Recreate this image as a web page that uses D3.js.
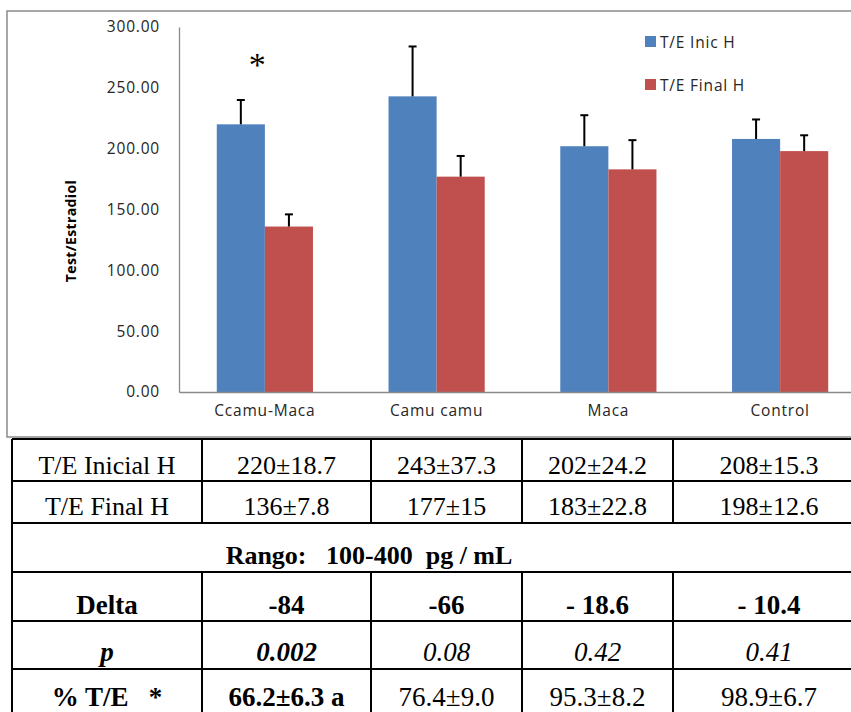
<!DOCTYPE html>
<html>
<head>
<meta charset="utf-8">
<script src="https://cdn.jsdelivr.net/npm/d3@7"></script>
<style>
  html, body { margin: 0; padding: 0; background: #fff; }
  svg { display: block; }
  .pre { white-space: pre; }
</style>
</head>
<body>
<svg id="chart" width="851" height="712"></svg>
<script>
// ---------------- data ----------------
const categories = ["Ccamu-Maca", "Camu camu", "Maca", "Control"];
const seriesNames = ["T/E Inic H", "T/E Final H"];
const inicValues = [220, 243, 202, 208];
const inicErrors = [20, 41, 25.5, 16];
const finalValues = [136, 177, 183, 198];
const finalErrors = [10, 17, 24, 13];
const yTicks = [0, 50, 100, 150, 200, 250, 300];
const yTitle = "Test/Estradiol";

const rowLabels = ["T/E Inicial H", "T/E Final H"];
const rowInic = ["220±18.7", "243±37.3", "202±24.2", "208±15.3"];
const rowFinal = ["136±7.8", "177±15", "183±22.8", "198±12.6"];
const rangoText = "Rango:   100-400  pg / mL";
const deltaLabel = "Delta";
const deltaValues = ["-84", "-66", "- 18.6", "- 10.4"];
const pLabel = "p";
const pValues = ["0.002", "0.08", "0.42", "0.41"];
const pctLabel = "% T/E   *";
const pctValues = ["66.2±6.3 a", "76.4±9.0", "95.3±8.2", "98.9±6.7"];

// ---------------- chart ----------------
const svg = d3.select("#chart");
const colors = ["#4F81BD", "#C0504D"];
const sansFont = "'Open Sans', 'Liberation Sans', sans-serif";
const serifFont = "'Liberation Serif', 'Times New Roman', serif";
const textGray = "#262626";

// outer chart frame
svg.append("rect")
  .attr("x", 7).attr("y", 11).attr("width", 900).attr("height", 426)
  .attr("fill", "none").attr("stroke", "#8a8a8a").attr("stroke-width", 1.5);

const plot = { left: 179, right: 866, top: 27, bottom: 392 };

const x0 = d3.scaleBand().domain(categories).range([plot.left, plot.right]).paddingInner(0.44).paddingOuter(0.22);
const x1 = d3.scaleBand().domain(seriesNames).range([0, x0.bandwidth()]);
const y = d3.scaleLinear().domain([0, 300]).range([plot.bottom, plot.top]);

const series = [
  { name: seriesNames[0], values: inicValues, errors: inicErrors, color: colors[0] },
  { name: seriesNames[1], values: finalValues, errors: finalErrors, color: colors[1] }
];

// y axis
const yAxis = d3.axisLeft(y).tickValues(yTicks).tickFormat(d3.format(".2f")).tickSize(0).tickPadding(19);
const gy = svg.append("g").attr("transform", `translate(${plot.left},0)`).call(yAxis);
gy.select(".domain").attr("stroke", "#8a8a8a").attr("stroke-width", 1.3);
gy.selectAll("text").attr("font-family", sansFont).attr("font-size", 15.5)
  .attr("letter-spacing", 0.8).attr("fill", textGray);

// bars
series.forEach((s) => {
  const g = svg.append("g");
  g.selectAll("rect").data(categories).join("rect")
    .attr("x", (c) => x0(c) + x1(s.name))
    .attr("y", (c, i) => y(s.values[i]))
    .attr("width", x1.bandwidth())
    .attr("height", (c, i) => y(0) - y(s.values[i]))
    .attr("fill", s.color);
  // error bars (upper only)
  g.selectAll("line.err").data(categories).join("line").attr("class", "err")
    .attr("x1", (c) => x0(c) + x1(s.name) + x1.bandwidth() / 2)
    .attr("x2", (c) => x0(c) + x1(s.name) + x1.bandwidth() / 2)
    .attr("y1", (c, i) => y(s.values[i]))
    .attr("y2", (c, i) => y(s.values[i] + s.errors[i]))
    .attr("stroke", "#000").attr("stroke-width", 2);
  g.selectAll("line.cap").data(categories).join("line").attr("class", "cap")
    .attr("x1", (c) => x0(c) + x1(s.name) + x1.bandwidth() / 2 - 4)
    .attr("x2", (c) => x0(c) + x1(s.name) + x1.bandwidth() / 2 + 4)
    .attr("y1", (c, i) => y(s.values[i] + s.errors[i]))
    .attr("y2", (c, i) => y(s.values[i] + s.errors[i]))
    .attr("stroke", "#000").attr("stroke-width", 2);
});

// x axis
const xAxis = d3.axisBottom(x0).tickSize(0).tickPadding(13);
const gx = svg.append("g").attr("transform", `translate(0,${plot.bottom})`).call(xAxis);
gx.select(".domain").attr("stroke", "#8a8a8a").attr("stroke-width", 1.3);
gx.selectAll("text").attr("font-family", sansFont).attr("font-size", 15.5)
  .attr("letter-spacing", 0.8).attr("fill", textGray);

// y title
svg.append("text")
  .attr("transform", `translate(76,231) rotate(-90)`)
  .attr("text-anchor", "middle")
  .attr("font-family", sansFont).attr("font-weight", "bold").attr("font-size", 14)
  .attr("letter-spacing", 0.4)
  .text(yTitle);

// asterisk over first group
svg.append("text")
  .attr("x", x0(categories[0]) + x0.bandwidth() * 0.42).attr("y", 76)
  .attr("text-anchor", "middle")
  .attr("font-family", serifFont).attr("font-size", 34)
  .text("*");

// legend
const legend = svg.append("g");
series.forEach((s, i) => {
  const ly = 42 + i * 43;
  legend.append("rect").attr("x", 645).attr("y", ly - 6).attr("width", 11).attr("height", 11).attr("fill", s.color);
  legend.append("text").attr("x", 660).attr("y", ly + 6)
    .attr("font-family", sansFont).attr("font-size", 15.5).attr("letter-spacing", 0.8).attr("fill", textGray)
    .text(s.name);
});

// ---------------- table ----------------
const colEdges = [12, 202, 371, 522, 673, 865];
const rowEdges = [439, 481, 523, 572, 621, 669, 712];
const tg = svg.append("g");
const colCenter = (k) => (colEdges[k] + colEdges[k + 1]) / 2;

function addRow(label, values, opts) {
  const baseline = opts.baseline;
  tg.append("text").attr("x", colCenter(0)).attr("y", baseline)
    .attr("text-anchor", "middle").attr("font-family", serifFont).attr("font-size", opts.size)
    .attr("font-weight", opts.labelBold ? "bold" : "normal")
    .attr("font-style", opts.labelItalic ? "italic" : "normal")
    .attr("class", "pre")
    .text(label);
  values.forEach((v, k) => {
    tg.append("text").attr("x", colCenter(k + 1)).attr("y", baseline)
      .attr("text-anchor", "middle").attr("font-family", serifFont).attr("font-size", opts.size)
      .attr("font-weight", opts.boldCols && opts.boldCols.includes(k) ? "bold" : "normal")
      .attr("font-style", opts.italic ? "italic" : "normal")
      .attr("class", "pre")
      .text(v);
  });
}

addRow(rowLabels[0], rowInic, { baseline: 474, size: 26 });
addRow(rowLabels[1], rowFinal, { baseline: 515, size: 26 });
tg.append("text").attr("x", 369).attr("y", 564)
  .attr("text-anchor", "middle").attr("font-family", serifFont).attr("font-size", 26)
  .attr("font-weight", "bold").attr("class", "pre").text(rangoText);
addRow(deltaLabel, deltaValues, { baseline: 614, size: 27, labelBold: true, boldCols: [0, 1, 2, 3] });
addRow(pLabel, pValues, { baseline: 661, size: 27, labelBold: true, labelItalic: true, italic: true, boldCols: [0] });
addRow(pctLabel, pctValues, { baseline: 706, size: 27, labelBold: true, boldCols: [0] });

// table grid lines
const lineColor = "#000";
rowEdges.slice(0, 6).forEach((ry) => {
  tg.append("line").attr("x1", colEdges[0]).attr("x2", 866).attr("y1", ry).attr("y2", ry)
    .attr("stroke", lineColor).attr("stroke-width", 2);
});
// left border full height
tg.append("line").attr("x1", colEdges[0]).attr("x2", colEdges[0]).attr("y1", rowEdges[0]).attr("y2", 712)
  .attr("stroke", lineColor).attr("stroke-width", 2);
// inner verticals (not in merged Rango row)
[[rowEdges[0], rowEdges[2]], [rowEdges[3], 712]].forEach(([a, b]) => {
  colEdges.slice(1, 5).forEach((cx) => {
    tg.append("line").attr("x1", cx).attr("x2", cx).attr("y1", a).attr("y2", b)
      .attr("stroke", lineColor).attr("stroke-width", 2);
  });
});
</script>
</body>
</html>
